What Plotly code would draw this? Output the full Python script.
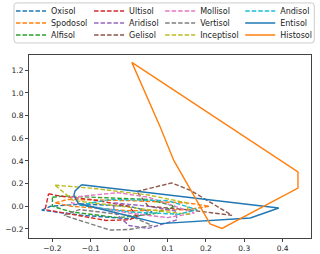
import plotly.graph_objects as go

# ---- data (closed polygons per soil order) ----
names = ["Oxisol", "Spodosol", "Alfisol", "Ultisol", "Aridisol", "Gelisol",
         "Mollisol", "Vertisol", "Inceptisol", "Andisol", "Entisol", "Histosol"]

oxisol_x = [-0.228, -0.205, -0.12, 0.0, 0.06, 0.0, -0.12, -0.228]
oxisol_y = [-0.035, 0.0, 0.02, 0.0, -0.05, -0.11, -0.08, -0.035]

spodosol_x = [-0.193, -0.16, 0.0, 0.15, 0.21, 0.15, 0.0, -0.15, -0.193]
spodosol_y = [0.03, 0.06, 0.05, 0.03, 0.0, -0.03, -0.04, 0.0, 0.03]

alfisol_x = [-0.2, -0.17, 0.05, 0.12, 0.06, -0.03, -0.15, -0.2, -0.2]
alfisol_y = [0.08, 0.09, 0.06, 0.0, -0.07, -0.1, -0.05, 0.0, 0.08]

ultisol_x = [-0.21, -0.18, -0.1, 0.0, 0.02, 0.0, -0.06, -0.219, -0.21]
ultisol_y = [0.11, 0.09, 0.06, 0.0, -0.09, -0.12, -0.125, -0.03, 0.11]

aridisol_x = [-0.04, 0.05, 0.12, 0.125, 0.05, 0.0, -0.04, -0.04]
aridisol_y = [0.03, 0.0, -0.04, -0.12, -0.195, -0.17, -0.05, 0.03]

gelisol_x = [0.02, 0.111, 0.16, 0.268, 0.15, 0.05, 0.02]
gelisol_y = [0.13, 0.206, 0.14, -0.08, -0.03, 0.0, 0.13]

mollisol_x = [-0.15, -0.03, 0.05, 0.17, 0.1, 0.0, -0.15, -0.15]
mollisol_y = [0.08, 0.12, 0.08, -0.06, -0.1, -0.06, 0.03, 0.08]

vertisol_x = [-0.17, -0.13, 0.0, 0.06, 0.0, -0.05, -0.17]
vertisol_y = [-0.08, -0.03, -0.08, -0.17, -0.205, -0.21, -0.08]

inceptisol_x = [-0.193, -0.1, 0.05, 0.15, 0.155, 0.1, -0.145, -0.193]
inceptisol_y = [0.186, 0.16, 0.1, 0.03, -0.07, -0.05, 0.05, 0.186]

andisol_x = [-0.13, -0.05, 0.1, 0.177, 0.13, 0.0, -0.13]
andisol_y = [0.01, 0.06, 0.05, -0.03, -0.07, -0.05, 0.01]

entisol_x = [-0.124, 0.39, 0.316, 0.081, -0.132, -0.144, -0.141, -0.124]
entisol_y = [0.19, -0.015, -0.103, -0.153, 0.024, 0.097, 0.135, 0.19]

histosol_x = [0.007, 0.44, 0.44, 0.242, 0.211, 0.116, 0.081, 0.007]
histosol_y = [1.27, 0.303, 0.16, -0.195, -0.156, 0.407, 0.70, 1.27]

xs = [oxisol_x, spodosol_x, alfisol_x, ultisol_x, aridisol_x, gelisol_x,
      mollisol_x, vertisol_x, inceptisol_x, andisol_x, entisol_x, histosol_x]
ys = [oxisol_y, spodosol_y, alfisol_y, ultisol_y, aridisol_y, gelisol_y,
      mollisol_y, vertisol_y, inceptisol_y, andisol_y, entisol_y, histosol_y]

colors = ["#1f77b4", "#ff7f0e", "#2ca02c", "#d62728", "#9467bd", "#8c564b",
          "#e377c2", "#7f7f7f", "#bcbd22", "#17becf", "#1f77b4", "#ff7f0e"]
dashes = ["4.5px,2px"] * 10 + ["solid", "solid"]

x_ticks = [-0.2, -0.1, 0.0, 0.1, 0.2, 0.3, 0.4]
y_ticks = [-0.2, 0.0, 0.2, 0.4, 0.6, 0.8, 1.0, 1.2]

# ---- layout geometry ----
W, H = 320, 254
L, R, T, B = 29, 9.3, 55, 16.3
pw, ph = W - L - R, H - T - B


def px2x(px):
    return (px - L) / pw


def py2y(py):
    return (H - B - py) / ph


fig = go.Figure()
legend_text_x = [51, 129, 200, 280]
legend_row_y = [11, 23, 35]
legend_layouts = {}
for i, (n, x, y, c, d) in enumerate(zip(names, xs, ys, colors, dashes)):
    key = "legend" if i == 0 else f"legend{i + 1}"
    fig.add_trace(go.Scatter(
        x=x, y=y, mode="lines", name=n, showlegend=True,
        line=dict(color=c, width=1.4, dash=d),
        legend=key, hoverinfo="skip"))
    col, row = i // 3, i % 3
    legend_layouts[key] = dict(
        x=px2x(legend_text_x[col] - 40), xanchor="left",
        y=py2y(legend_row_y[row]), yanchor="middle",
        bgcolor="rgba(0,0,0,0)", borderwidth=0,
        font=dict(family="DejaVu Sans", size=8, color="#222"))

fig.update_layout(**legend_layouts)

# legend frame (rounded)
bx0, bx1, by0, by1, r = 14, 314, 3, 43, 3
path = (f"M{px2x(bx0 + r)},{py2y(by0)} L{px2x(bx1 - r)},{py2y(by0)} "
        f"Q{px2x(bx1)},{py2y(by0)} {px2x(bx1)},{py2y(by0 + r)} "
        f"L{px2x(bx1)},{py2y(by1 - r)} "
        f"Q{px2x(bx1)},{py2y(by1)} {px2x(bx1 - r)},{py2y(by1)} "
        f"L{px2x(bx0 + r)},{py2y(by1)} "
        f"Q{px2x(bx0)},{py2y(by1)} {px2x(bx0)},{py2y(by1 - r)} "
        f"L{px2x(bx0)},{py2y(by0 + r)} "
        f"Q{px2x(bx0)},{py2y(by0)} {px2x(bx0 + r)},{py2y(by0)} Z")
fig.add_shape(type="path", path=path, xref="paper", yref="paper",
              line=dict(color="#cccccc", width=1), layer="below")

axis_common = dict(showgrid=False, zeroline=False, showline=True, mirror=True,
                   linecolor="#444", linewidth=1, ticks="outside", ticklen=3,
                   tickwidth=1, tickcolor="#444", tickformat=".1f",
                   tickfont=dict(family="DejaVu Sans", size=7.5, color="#222"))
fig.update_xaxes(range=[-0.261, 0.474], tickvals=x_ticks, automargin=False,
                 **axis_common)
fig.update_yaxes(range=[-0.28, 1.335], tickvals=y_ticks, automargin=False,
                 **axis_common)

fig.update_layout(width=W, height=H, showlegend=True,
                  margin=dict(l=L, r=R, t=T, b=B, autoexpand=False),
                  paper_bgcolor="white", plot_bgcolor="white",
                  font=dict(family="DejaVu Sans"))

fig.write_html("out.html",
               config={"displayModeBar": False},
               post_script="document.body.style.margin='0';"
                           "document.body.style.overflow='hidden';")
